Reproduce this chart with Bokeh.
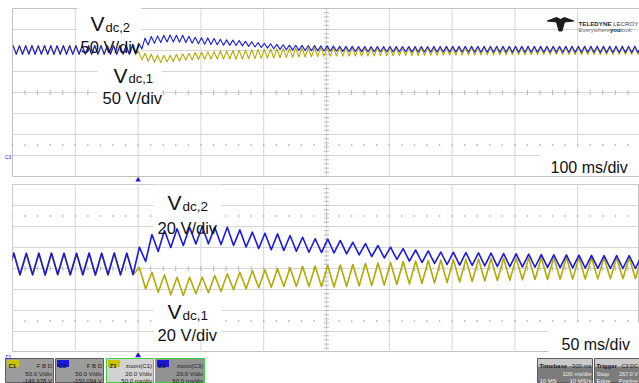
import numpy as np
from bokeh.plotting import figure
from bokeh.models import Range1d, Label, Span
from bokeh.layouts import column
from bokeh.embed import file_html
from bokeh.resources import INLINE

# ---------------- data (read from the screen capture) ----------------
# 100 Hz ripple of the two DC-link voltages; one trough and one peak per 10 ms.
# troughs at t = -204 + 10 i ms, peaks at t = -199 + 10 i ms  (i = 0 .. 100), step at t = 0
t_trough = [-204 + 10 * i for i in range(101)]
t_peak = [-199 + 10 * i for i in range(101)]

vdc2_peak = [
    261.5, 261.7, 261.6, 261.8, 261.5, 261.6, 261.7, 261.5, 261.8, 261.6,
    261.7, 261.5, 261.6, 261.8, 261.6, 261.5, 261.7, 261.6, 261.8, 261.6,
    267.3, 279.4, 283.2, 284.8, 286.3, 287.0, 286.3, 286.3, 283.8, 281.6,
    280.6, 280.0, 278.4, 276.8, 275.3, 275.1, 273.7, 272.0, 270.8, 268.9,
    267.3, 266.0, 264.6, 263.7, 262.7, 262.5, 262.2, 261.9, 261.7, 261.3,
    261.0, 260.7, 260.3, 260.1, 259.9, 259.7, 259.5, 259.4, 259.4, 259.4,
    259.4, 259.5, 259.5, 259.6, 259.6, 259.6, 259.7, 259.7, 259.7, 259.8,
    259.8, 259.8, 259.9, 259.9, 259.9, 260.0, 260.0, 260.0, 260.0, 260.1,
    260.1, 260.1, 260.1, 260.2, 260.2, 260.2, 260.2, 260.2, 260.3, 260.3,
    260.3, 260.3, 260.3, 260.3, 260.4, 260.4, 260.4, 260.4, 260.4, 260.4,
    260.4,
]
vdc2_trough = [
    241.1, 240.9, 241.0, 241.2, 240.9, 241.0, 241.1, 240.8, 241.0, 241.2,
    240.9, 241.1, 241.0, 240.9, 241.2, 241.0, 241.1, 240.9, 241.0, 241.1,
    241.3,
    253.7, 263.2, 267.0, 268.9, 270.3, 270.5, 269.8, 268.9, 267.5, 266.0,
    264.8, 264.1, 263.5, 262.5, 262.2, 261.8, 261.0, 259.9, 258.4, 257.0,
    255.6, 254.1, 252.7, 251.8, 250.8, 250.3, 249.9, 249.5, 249.1, 248.8,
    248.5, 248.2, 248.0, 247.8, 247.6, 247.4, 247.2, 247.0, 247.0, 247.0,
    246.9, 246.8, 246.8, 246.7, 246.6, 246.6, 246.5, 246.5, 246.4, 246.4,
    246.3, 246.3, 246.2, 246.2, 246.1, 246.1, 246.0, 246.0, 246.0, 245.9,
    245.9, 245.9, 245.8, 245.8, 245.8, 245.7, 245.7, 245.7, 245.7, 245.6,
    245.6, 245.6, 245.6, 245.5, 245.5, 245.5, 245.5, 245.5, 245.4, 245.4,
]
vdc1_peak = [
    261.3, 261.5, 261.4, 261.5, 261.3, 261.4, 261.4, 261.3, 261.5, 261.4,
    261.5, 261.3, 261.4, 261.5, 261.4, 261.3, 261.5, 261.4, 261.5, 261.4,
    248.0, 243.5, 241.0, 238.7, 238.7, 238.7, 240.3, 242.0, 243.5, 245.1,
    245.8, 246.7, 247.7, 248.9, 249.2, 249.9, 250.3, 250.8, 251.8, 252.2,
    252.7, 253.7, 254.1, 254.6, 255.1, 255.6, 255.9, 256.2, 256.5, 256.7,
    256.9, 257.1, 257.3, 257.5, 257.5, 257.5, 257.5, 257.5, 257.5, 257.5,
    257.5, 257.6, 257.6, 257.7, 257.7, 257.8, 257.8, 257.8, 257.9, 257.9,
    257.9, 258.0, 258.0, 258.0, 258.1, 258.1, 258.1, 258.1, 258.2, 258.2,
    258.2, 258.2, 258.3, 258.3, 258.3, 258.3, 258.3, 258.4, 258.4, 258.4,
    258.4, 258.4, 258.5, 258.5, 258.5, 258.5, 258.5, 258.5, 258.6, 258.6,
    258.6,
]
vdc1_trough = [
    240.9, 240.7, 240.8, 241.0, 240.7, 240.8, 240.9, 240.6, 240.8, 241.0,
    240.7, 240.9, 240.8, 240.7, 241.0, 240.8, 240.9, 240.7, 240.8, 240.9,
    241.1,
    227.7, 224.4, 222.0, 221.3, 222.9, 223.9, 225.1, 226.7, 227.7, 228.6,
    229.2, 229.9, 229.9, 229.9, 229.9, 229.4, 229.9, 230.3, 230.8, 231.3,
    231.8, 232.2, 232.7, 233.2, 233.7, 234.1, 234.6, 235.1, 235.6, 235.9,
    236.2, 236.5, 236.5, 236.7, 236.9, 237.0, 237.1, 237.2, 237.3, 237.5,
    237.6, 237.8, 237.9, 238.1, 238.2, 238.4, 238.5, 238.6, 238.8, 238.9,
    239.0, 239.1, 239.2, 239.3, 239.4, 239.5, 239.6, 239.7, 239.8, 239.9,
    239.9, 240.0, 240.1, 240.1, 240.2, 240.2, 240.3, 240.3, 240.4, 240.4,
    240.5, 240.5, 240.5, 240.6, 240.6, 240.6, 240.7, 240.7, 240.7, 240.8,
]

# scope settings (descriptor boxes)
ch_boxes = [
    ("C1", "F B D", "50.0 V/div", "-149.978 V"),
    ("C3", "F B D", "50.0 V/div", "-150.094 V"),
    ("Z1", "zoom(C1)", "20.0 V/div", "50.0 ms/div"),
    ("Z3", "zoom(C3)", "20.0 V/div", "50.0 ms/div"),
]
timebase = ("Timebase", "-300 ms", "100 ms/div", "10 MS", "10 MS/s")
trigger = ("Trigger", "C3 DC", "Stop", "267.0 V", "Edge", "Positive")

assert len(vdc2_peak) == len(vdc2_trough) == len(vdc1_peak) == len(vdc1_trough) == 101


def interleave(t_lo, lo, t_hi, hi):
    t, v = [], []
    for a, b, c, d in zip(t_lo, lo, t_hi, hi):
        t += [a, c]
        v += [b, d]
    return t, v


t2, v2 = interleave(t_trough, vdc2_trough, t_peak, vdc2_peak)
t1, v1 = interleave(t_trough, vdc1_trough, t_peak, vdc1_peak)

# ---------------- style ----------------
BLUE = "#1818e8"
YEL = "#b3aa06"
GRID = "#d6d6d6"
EDGE = "#c2c2c2"
TICK = "#b8b8b8"
FONT = "Liberation Sans"
DIV_PX = 62.8
ROW_PX = 21.0
CONV = {}

COMMON = dict(title=None, x_axis_location=None, y_axis_location=None,
              toolbar_location=None, output_backend="svg",
              background_fill_color="white", border_fill_color="white",
              min_border=0, min_border_right=0, min_border_top=0,
              min_border_bottom=0)


def center_marks(p, t0, ms_div, v_center, v_div, dotted_rows):
    t_c = t0 + 5 * ms_div
    xs = [t0 + k * ms_div / 5 for k in range(51)]
    ys = [v_center - 4 * v_div + k * v_div / 5 for k in range(41)]
    p.scatter(xs, [v_center] * len(xs), marker="dash", size=5, angle=np.pi / 2,
              line_color=TICK, line_width=1)
    p.scatter([t_c] * len(ys), ys, marker="dash", size=5,
              line_color=TICK, line_width=1)
    for r in dotted_rows:
        p.scatter(xs, [r] * len(xs), marker="square", size=1.4,
                  fill_color="#a8a8a8", line_color=None)


def white_box(p, x0, x1, ya, yb):
    a = CONV[p.id](x0, ya)
    b = CONV[p.id](x1, yb)
    p.quad(left=a[0], right=b[0], top=a[1], bottom=b[1],
           fill_color="white", line_color=None)


def text(p, px, py, s, size, color="#111111", align="left", style="normal",
         font=FONT, baseline="alphabetic"):
    x, y = CONV[p.id](px, py)
    p.add_layout(Label(x=x, y=y, text=s, text_font=font, text_font_size=size,
                       text_color=color, text_align=align, text_baseline=baseline,
                       text_font_style=style))


# ---------------- top panel: 100 ms/div, 50 V/div ----------------
# the frame covers the whole top strip of the page (0..639 x 0..184)
T0, TMS, TVC, TVD = -200, 100, 150, 50
top = figure(frame_width=639, frame_height=184, frame_align=False,
             x_range=Range1d(T0 - 12 / DIV_PX * TMS, T0 + 627 / DIV_PX * TMS),
             y_range=Range1d(TVC + 4 * TVD - 176 / ROW_PX * TVD,
                             TVC + 4 * TVD + 8 / ROW_PX * TVD),
             outline_line_color=None, min_border_left=0, **COMMON)
top.grid.visible = False
CONV[top.id] = lambda px, py: (T0 + (px - 12) / DIV_PX * TMS,
                               TVC + 4 * TVD - (py - 8) / ROW_PX * TVD)
tx = [T0 + i * TMS for i in range(11)]
ty = [TVC - 4 * TVD + j * TVD for j in range(9)]
top.segment(x0=tx[1:], x1=tx[1:], y0=[ty[0]] * 10, y1=[ty[-1]] * 10,
            line_color=GRID, line_width=1)
top.segment(x0=[tx[0]] * 7, x1=[tx[-1]] * 7, y0=ty[1:-1], y1=ty[1:-1],
            line_color=GRID, line_width=1)
top.segment(x0=[tx[0], tx[0], tx[0]], x1=[tx[0], tx[-1], tx[-1]],
            y0=[ty[0], ty[0], ty[-1]], y1=[ty[-1], ty[0], ty[-1]],
            line_color=EDGE, line_width=1)
center_marks(top, T0, TMS, TVC, TVD, [25])
white_box(top, 77, 141, 7, 50)
white_box(top, 97, 161, 53, 100)
white_box(top, 540, 640, 147, 175.4)
top.line(t1[1:], v1[1:], color=YEL, line_width=1.1, line_join="round")
top.line(t2[1:], v2[1:], color=BLUE, line_width=1.1, line_join="round")

text(top, 90, 23, "V", "21px")
text(top, 105, 26.5, "dc,2", "13px")
text(top, 80, 46.5, "50 V/div", "16.5px")
text(top, 113, 75, "V", "21px")
text(top, 128, 78, "dc,1", "13px")
text(top, 102, 97, "50 V/div", "16.5px")
text(top, 550, 167, "100 ms/div", "16px")

# logo
lx = [546.7, 556, 560, 564, 573.3, 564, 561.5, 558.5, 556]
ly = [20.5, 17, 19, 17, 20.5, 21.5, 30.5, 30.5, 21.5]
pts = [CONV[top.id](a, b) for a, b in zip(lx, ly)]
top.patch([q[0] for q in pts], [q[1] for q in pts], color="#1c1c1c")
text(top, 578, 23, "TELEDYNE", "6.2px", color="#2a2a2a", style="bold")
text(top, 612.5, 23, "LECROY", "6.2px", color="#444444")
text(top, 578, 29.5, "Everywhere", "6px", color="#707070")
text(top, 609.5, 29.5, "you", "6px", color="#222222", style="bold")
text(top, 620, 29.5, "look", "6px", color="#707070")
# channel marker at the left edge and trigger position marker below the grid
text(top, 4.5, 156.5, "C3", "5px", color=BLUE)
mx, my = CONV[top.id](137.6, 179.5)
top.scatter([mx], [my], marker="triangle", size=5.5, fill_color=BLUE, line_color=None)

# ---------------- bottom panel: 50 ms/div, 20 V/div ----------------
B0, BMS, BVC, BVD = -100, 50, 247, 20
bot = figure(frame_width=627, frame_height=168, frame_align=False,
             x_range=Range1d(B0, B0 + 627 / DIV_PX * BMS),
             y_range=Range1d(BVC - 4 * BVD, BVC + 4 * BVD),
             outline_line_color=EDGE, outline_line_width=1,
             min_border_left=12, **COMMON)
bot.grid.visible = False
CONV[bot.id] = lambda px, py: (B0 + (px - 12) / DIV_PX * BMS,
                               BVC + 4 * BVD - (py - 184) / ROW_PX * BVD)
for i in range(11):
    bot.add_layout(Span(location=B0 + i * BMS, dimension="height",
                        line_color=GRID, line_width=1, level="underlay"))
for j in range(9):
    bot.add_layout(Span(location=BVC - 4 * BVD + j * BVD, dimension="width",
                        line_color=GRID, line_width=1, level="underlay"))
center_marks(bot, B0, BMS, BVC, BVD, [197, 297])
white_box(bot, 153, 221, 184, 231)
white_box(bot, 153, 221, 292, 340)
white_box(bot, 548, 639, 322, 352)
bot.line(t1, v1, color=YEL, line_width=1.6, line_join="round")
bot.line(t2, v2, color=BLUE, line_width=1.6, line_join="round")

text(bot, 167, 202, "V", "21px")
text(bot, 182, 205.5, "dc,2", "13.5px")
text(bot, 157, 227, "20 V/div", "16.5px")
text(bot, 167, 311, "V", "21px")
text(bot, 182, 314.5, "dc,1", "13.5px")
text(bot, 157, 334, "20 V/div", "16.5px")
text(bot, 561, 343.5, "50 ms/div", "16px")

# ---------------- footer: descriptor boxes ----------------
foot = figure(frame_width=639, frame_height=31, frame_align=False,
              x_range=Range1d(0, 639), y_range=Range1d(383, 352),
              outline_line_color=None, min_border_left=0, **COMMON)
foot.grid.visible = False
CONV[foot.id] = lambda px, py: (px, py)

foot.scatter([137.6], [355], marker="triangle", size=6, fill_color=BLUE, line_color=None)
text(foot, 4.5, 356.5, "Z3", "5px", color=BLUE)

box_x = [(5, 53), (55, 103), (106, 153), (155, 204)]
box_fill = ["#9c9c9c", "#9c9c9c", "#d2d2d2", "#929292"]
box_line = ["#5c5c5c", "#5c5c5c", "#3fd03f", "#3fd03f"]
tag_fill = ["#c9c300", "#1a1ad6", "#c9c300", "#1a1ad6"]
tag_txt = ["#202020", "#10105a", "#202020", "#10105a"]
for (x0, x1), bf, bl, tf, tt, info in zip(box_x, box_fill, box_line, tag_fill, tag_txt, ch_boxes):
    foot.quad(left=x0, right=x1, top=358, bottom=382, fill_color=bf, line_color=bl, line_width=1)
    foot.quad(left=x0 + 1.5, right=x0 + 13.5, top=359.5, bottom=366.5, fill_color=tf, line_color=None)
    text(foot, x0 + 3, 365.5, info[0], "6px", color=tt, style="bold")
    text(foot, x1 - 1.5, 365.5, info[1], "6px", align="right", color="#1c1c1c")
    text(foot, x1 - 1.5, 373, info[2], "6px", align="right", color="#1c1c1c")
    text(foot, x1 - 1.5, 380.5, info[3], "6px", align="right", color="#1c1c1c")

# timebase
foot.quad(left=537, right=592, top=358, bottom=382, fill_color="#7c7c7c", line_color="#5c5c5c")
foot.quad(left=537.5, right=591.5, top=358.5, bottom=366, fill_color="#cacaca", line_color=None)
text(foot, 539, 365, timebase[0], "6px", style="bold", color="#1c1c1c")
text(foot, 591, 365, timebase[1], "6px", align="right", color="#1c1c1c")
text(foot, 591, 373, timebase[2], "6px", align="right", color="#f0f0f0")
text(foot, 539, 380.5, timebase[3], "6px", color="#f0f0f0")
text(foot, 591, 380.5, timebase[4], "6px", align="right", color="#f0f0f0")
# trigger
foot.quad(left=594, right=650, top=358, bottom=382, fill_color="#7c7c7c", line_color="#5c5c5c")
foot.quad(left=594.5, right=650, top=358.5, bottom=366, fill_color="#cacaca", line_color=None)
text(foot, 596, 365, trigger[0], "6px", style="bold", color="#1c1c1c")
text(foot, 637.5, 365, trigger[1], "5.5px", color="#1c1c1c", align="right")
text(foot, 596, 373, trigger[2], "6px", color="#f0f0f0")
text(foot, 637.5, 373, trigger[3], "5.5px", color="#f0f0f0", align="right")
text(foot, 596, 380.5, trigger[4], "6px", color="#f0f0f0")
text(foot, 637.5, 380.5, trigger[5], "5.5px", color="#f0f0f0", align="right")

layout = column(top, bot, foot, spacing=0)
open("out.html", "w").write(file_html(layout, INLINE))
